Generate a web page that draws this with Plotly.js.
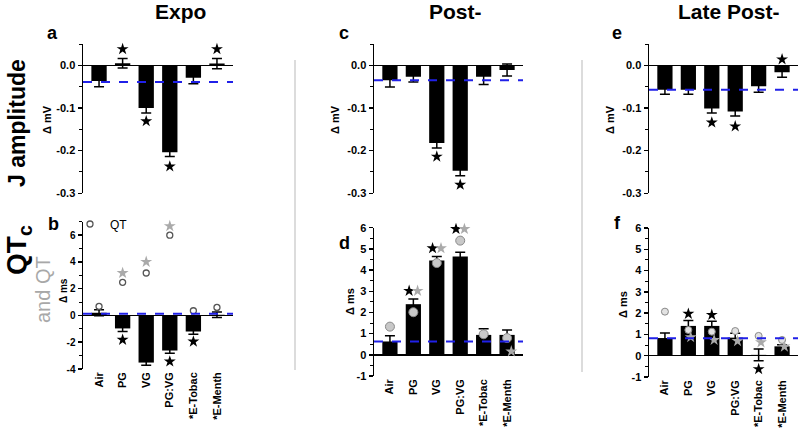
<!DOCTYPE html>
<html>
<head>
<meta charset="utf-8">
<script src="https://cdn.plot.ly/plotly-3.0.1.min.js"></script>
<style>html,body{margin:0;padding:0;background:#fff;}#chart{width:800px;height:436px;}</style>
</head>
<body>
<div id="chart"></div>
<script>
// ---- Data ----
const categories = ['Air', 'PG', 'VG', 'PG:VG', '*E-Tobac', '*E-Menth'];

// J amplitude (Δ mV)
const jExpo = [-0.037, 0.005, -0.100, -0.204, -0.029, 0.004];
const jExpoErr = [0.013, 0.011, 0.012, 0.010, 0.014, 0.012];
const jExpoStar = [null, 0.038, -0.131, -0.237, null, 0.038];
const jPost = [-0.035, -0.027, -0.182, -0.247, -0.027, -0.011];
const jPostErr = [0.016, 0.012, 0.012, 0.012, 0.018, 0.014];
const jPostStar = [null, null, -0.214, -0.280, null, null];
const jLate = [-0.057, -0.057, -0.101, -0.108, -0.049, -0.016];
const jLateErr = [0.011, 0.011, 0.011, 0.011, 0.014, 0.012];
const jLateStar = [null, null, -0.134, -0.143, null, 0.014];
const jBaseline = [-0.039, -0.035, -0.057];

// QTc (Δ ms), bars
const qtcExpo = [0.20, -0.97, -3.52, -2.62, -1.20, 0.05];
const qtcExpoErr = [0.23, 0.23, 0.20, 0.20, 0.20, 0.20];
const qtcExpoStar = [null, -1.82, -4.30, -3.44, -1.95, null];
const qtcPost = [0.63, 2.39, 4.45, 4.64, 0.94, 0.94];
const qtcPostErr = [0.27, 0.24, 0.19, 0.20, 0.29, 0.23];
const qtcPostStar = [null, 3.02, 5.03, 5.94, null, null];
const qtcLate = [0.83, 1.40, 1.40, 0.85, 0.04, 0.44];
const qtcLateErr = [0.24, 0.25, 0.22, 0.20, 0.28, 0.08];
const qtcLateStar = [null, 1.97, 1.92, null, -0.63, null];
const qtcBaseline = [0.13, 0.63, 0.82];

// QT (Δ ms), circles and grey stars
const qtExpo = [0.67, 2.47, 3.17, 5.99, 0.35, 0.60];
const qtExpoStar = [null, 3.17, 4.00, 6.67, null, null];
const qtPost = [1.33, 2.01, 4.33, 5.39, 0.97, 0.79];
const qtPostStar = [null, 3.02, 5.03, 5.94, null, 0.16];
const qtLate = [2.07, 1.21, 1.13, 1.16, 0.93, 0.74];
const qtLateStar = [null, 0.87, 0.74, 0.69, 0.63, 0.43];

const jTicks = [0, -0.1, -0.2, -0.3];
const qtExpoTicks = [-4, -2, 0, 2, 4, 6];
const qtTicks = [-1, 0, 1, 2, 3, 4, 5, 6];

// ---- Build ----
const FONT = 'Liberation Sans, Arial, Helvetica, sans-serif';
const idx = categories.map((c, i) => i);
const W = 800, H = 436;
const px = v => v / W;
const py = v => 1 - v / H;

const traces = [];
function addBars(xa, ya, vals, err) {
  traces.push({
    type: 'bar', x: idx, y: vals, xaxis: xa, yaxis: ya, width: 0.65,
    marker: {color: '#000', line: {width: 0}},
    error_y: {type: 'data', array: err, visible: true, color: '#000', thickness: 1.5, width: 5},
    showlegend: false, hoverinfo: 'skip', cliponaxis: false
  });
}
function addStars(xa, ya, vals, color, off) {
  traces.push({
    type: 'scatter', mode: 'markers', x: idx.map(i => i + off), y: vals, xaxis: xa, yaxis: ya,
    marker: {symbol: 'star', size: 9, color: color, line: {width: 0}},
    showlegend: false, hoverinfo: 'skip', cliponaxis: false
  });
}
function addCircles(xa, ya, vals, marker, legend) {
  traces.push({
    type: 'scatter', mode: 'markers', x: idx, y: vals, xaxis: xa, yaxis: ya,
    marker: marker, name: 'QT', showlegend: !!legend, hoverinfo: 'skip', cliponaxis: false
  });
}

// top row
addBars('x', 'y', jExpo, jExpoErr);
addStars('x', 'y', jExpoStar, '#000', 0);
addBars('x3', 'y3', jPost, jPostErr);
addStars('x3', 'y3', jPostStar, '#000', 0);
addBars('x5', 'y5', jLate, jLateErr);
addStars('x5', 'y5', jLateStar, '#000', 0);

// bottom row
addBars('x2', 'y2', qtcExpo, qtcExpoErr);
addCircles('x2', 'y2', qtExpo, {symbol: 'circle', size: 6, color: '#fff', line: {color: '#555', width: 1.3}}, true);
addStars('x2', 'y2', qtExpoStar, '#aaa', 0);
addStars('x2', 'y2', qtcExpoStar, '#000', 0);

addBars('x4', 'y4', qtcPost, qtcPostErr);
addCircles('x4', 'y4', qtPost, {symbol: 'circle', size: 9, color: '#c8c8c8', line: {color: '#888', width: 1}});
addStars('x4', 'y4', qtcPostStar, '#000', -0.18);
addStars('x4', 'y4', qtPostStar, '#aaa', 0.18);

addBars('x6', 'y6', qtcLate, qtcLateErr);
addCircles('x6', 'y6', qtLate, {symbol: 'circle', size: 7, color: '#e2e2e2', line: {color: '#888', width: 1}});
addStars('x6', 'y6', qtLateStar, '#aaa', 0.1);
addStars('x6', 'y6', qtcLateStar, '#000', 0);

function yAxis(domain, range, ticks, dec, minorD, anchor, fs) {
  return {
    domain: domain, range: range, anchor: anchor,
    tickmode: 'array', tickvals: ticks, ticktext: ticks.map(v => v.toFixed(dec)),
    showline: true, linecolor: '#000', linewidth: 1.5,
    ticks: 'outside', ticklen: 4, tickwidth: 1.5, tickcolor: '#000',
    minor: {tickmode: 'linear', tick0: 0, dtick: minorD, ticks: 'outside', ticklen: 2.5, tickwidth: 1, tickcolor: '#000'},
    showgrid: false, zeroline: true, zerolinecolor: '#000', zerolinewidth: 1.5,
    tickfont: {family: FONT, size: fs || 11, color: '#000', weight: 'bold'},
    fixedrange: true
  };
}
function xAxis(domain, anchor, labels) {
  return {
    domain: domain, anchor: anchor, range: [-0.68, 5.68],
    tickmode: 'array', tickvals: idx, ticktext: categories,
    showticklabels: labels, tickangle: -90, ticks: '',
    showline: false, showgrid: false, zeroline: false,
    tickfont: {family: FONT, size: 11, color: '#000', weight: 'bold'},
    fixedrange: true
  };
}

const topY = [py(193.3), py(44)];
const colA = [px(83), px(233)];
const colC = [px(374), px(523)];
const colE = [px(649), px(798)];

const layout = {
  width: W, height: H,
  margin: {l: 0, r: 0, t: 0, b: 0},
  paper_bgcolor: '#fff', plot_bgcolor: 'rgba(0,0,0,0)',
  font: {family: FONT, color: '#000'},
  showlegend: true,
  legend: {x: px(70), y: py(224), xanchor: 'left', yanchor: 'middle', bgcolor: 'rgba(0,0,0,0)',
           font: {family: FONT, size: 12, color: '#000'}, itemwidth: 30, borderwidth: 0},
  xaxis: xAxis(colA, 'y', false),
  yaxis: yAxis(topY, [-0.3, 0.05], jTicks, 1, 0.05, 'x'),
  xaxis2: xAxis(colA, 'y2', true),
  yaxis2: yAxis([py(369), py(221.7)], [-4, 7], qtExpoTicks, 0, 1, 'x2', 10),
  xaxis3: xAxis(colC, 'y3', false),
  yaxis3: yAxis(topY, [-0.3, 0.05], jTicks, 1, 0.05, 'x3'),
  xaxis4: xAxis(colC, 'y4', true),
  yaxis4: yAxis([py(376), py(227.7)], [-1, 6], qtTicks, 0, 0.5, 'x4'),
  xaxis5: xAxis(colE, 'y5', false),
  yaxis5: yAxis(topY, [-0.3, 0.05], jTicks, 1, 0.05, 'x5'),
  xaxis6: xAxis(colE, 'y6', true),
  yaxis6: yAxis([py(377), py(228)], [-1, 6], qtTicks, 0, 0.5, 'x6'),
  shapes: [],
  annotations: []
};

// baselines
const jAx = [['x', 'y'], ['x3', 'y3'], ['x5', 'y5']];
const qAx = [['x2', 'y2'], ['x4', 'y4'], ['x6', 'y6']];
function baseline(ax, v) {
  layout.shapes.push({type: 'line', xref: ax[0] + ' domain', yref: ax[1], x0: 0, x1: 1, y0: v, y1: v,
    line: {color: '#2020e8', width: 2, dash: 'dash'}, layer: 'above'});
}
jAx.forEach((a, i) => baseline(a, jBaseline[i]));
qAx.forEach((a, i) => baseline(a, qtcBaseline[i]));

// separators
[[295, 60, 370], [582, 60, 372]].forEach(s => {
  layout.shapes.push({type: 'line', xref: 'paper', yref: 'paper', x0: px(s[0]), x1: px(s[0]), y0: py(s[1]), y1: py(s[2]),
    line: {color: '#dcdcdc', width: 2}});
});

function ann(text, x, y, size, opts) {
  layout.annotations.push(Object.assign({
    text: text, xref: 'paper', yref: 'paper', x: px(x), y: py(y), xanchor: 'center', yanchor: 'middle',
    showarrow: false, font: {family: FONT, size: size, color: '#000', weight: 'bold'}
  }, opts || {}));
}
// column titles
ann('Expo', 180, 11, 21);
ann('Post-', 456, 11, 21);
ann('Late Post-', 729, 11, 21);
// panel letters
ann('a', 52, 33, 18);
ann('b', 53, 224, 18);
ann('c', 344, 33, 18);
ann('d', 344, 243, 18);
ann('e', 617, 33, 18);
ann('f', 617, 223, 18);
// row labels
ann('J amplitude', 17, 123, 23, {textangle: -90});
ann('QT<sub>c</sub>', 18, 250, 28, {textangle: -90});
ann('and QT', 43, 290, 20, {textangle: -90, font: {family: FONT, size: 20, color: '#a8a8a8', weight: 'normal'}});
// axis titles
ann('Δ mV', 47, 120, 11, {textangle: -90});
ann('Δ mV', 335, 120, 11, {textangle: -90});
ann('Δ mV', 610, 120, 11, {textangle: -90});
ann('Δ ms', 63, 291, 10, {textangle: -90});
ann('Δ ms', 350, 302, 11, {textangle: -90});
ann('Δ ms', 623, 305, 11, {textangle: -90});

Plotly.newPlot('chart', traces, layout, {staticPlot: true, displayModeBar: false});
</script>
</body>
</html>
